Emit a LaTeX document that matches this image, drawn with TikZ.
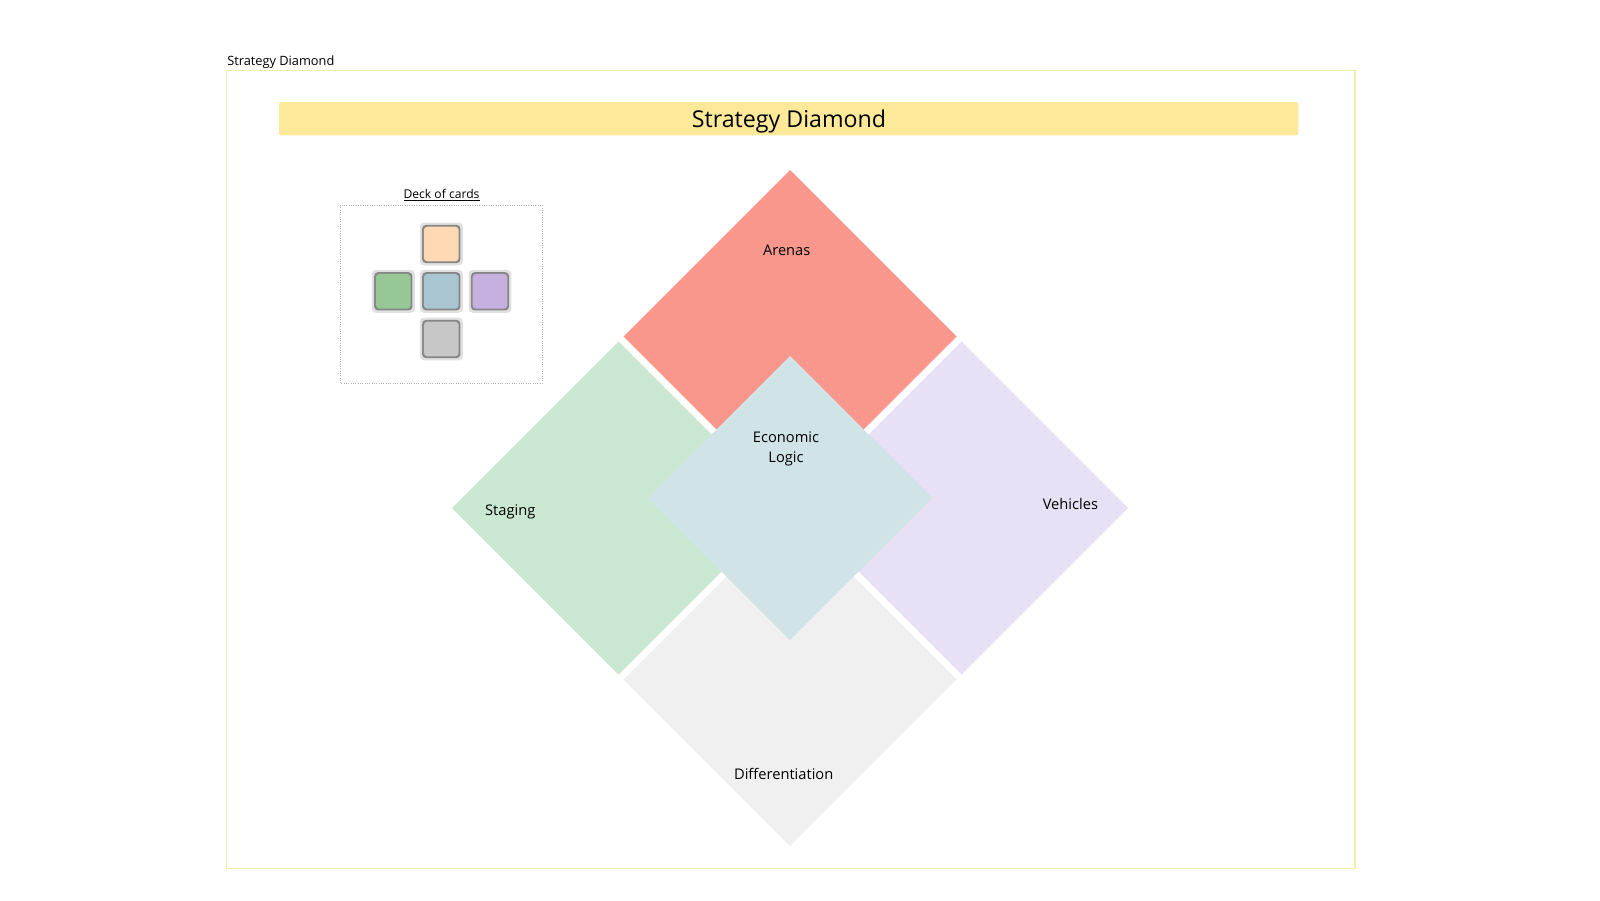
\documentclass[tikz,border=0pt]{standalone}
\usepackage{fontspec}
\setmainfont{Open Sans}
\usetikzlibrary{shadows}

\definecolor{framey}{HTML}{F6EEA8}
\definecolor{bannery}{HTML}{FDE99A}
\definecolor{arenasc}{HTML}{F9978C}
\definecolor{stagingc}{HTML}{CAE8D1}
\definecolor{vehiclesc}{HTML}{E8E0F5}
\definecolor{diffc}{HTML}{F0F0F0}
\definecolor{econc}{HTML}{D0E4E8}
\definecolor{cardpeach}{HTML}{FFD8B4}
\definecolor{cardgreen}{HTML}{97C794}
\definecolor{cardblue}{HTML}{A9C5D1}
\definecolor{cardpurple}{HTML}{C6B0DF}
\definecolor{cardgray}{HTML}{C7C7C7}

\begin{document}
\begin{tikzpicture}[x=0.75pt,y=0.75pt,yscale=-1,xscale=1,
    lbl/.style={inner sep=0.75pt, text=black, align=center, font=\fontsize{11}{15}\selectfont},
    card/.style={rounded corners=2.5pt, minimum size=26pt, inner sep=0pt,
      general shadow={fill=black, opacity=.12, shadow scale=1.24},
      general shadow={fill=black, opacity=.4, shadow scale=1.1}}]
        \useasboundingbox (0,0) rectangle (1600,900);

        % Text Node
        \node [anchor=west, inner sep=0.75pt, font=\fontsize{9.6}{12}\selectfont] (caption) at (226,62) {Strategy Diamond};
        %Shape: Rectangle
        \draw [color=framey, line width=1.1pt] (226.7,70.7) rectangle (1355,868.3) ;
        %Shape: Rectangle
        \fill [bannery, rounded corners=1.5pt] (279,102) rectangle (1298.3,135.3) ;
        % Text Node
        \node [inner sep=0.75pt, font=\fontsize{17.4}{20}\selectfont] (title) at (789,121.5) {Strategy Diamond};

        %Shape: Rectangle
        \draw [color=black!30, densely dotted, line width=0.75pt] (340,205) rectangle (542,383.5) ;
        % Text Node
        \node [inner sep=0.75pt, font=\fontsize{9.1}{11}\selectfont] (deck) at (441.5,195) {\underline{Deck of cards}};
        % Cards
        \node [card, fill=cardpeach] (cardTop) at (441.3,244) {};
        \node [card, fill=cardgreen] (cardLeft) at (393.3,291.3) {};
        \node [card, fill=cardblue] (cardMid) at (441.3,291.3) {};
        \node [card, fill=cardpurple] (cardRight) at (490,291.3) {};
        \node [card, fill=cardgray] (cardBot) at (441.3,339) {};

        %Shape: Diamond
        \fill [arenasc] (790,170) -- (956.5,336.5) -- (790,503) -- (623.5,336.5) -- cycle ;
        %Shape: Diamond
        \fill [stagingc] (618.5,341.5) -- (785,508) -- (618.5,674.5) -- (452,508) -- cycle ;
        %Shape: Diamond
        \fill [vehiclesc] (961.5,341.5) -- (1128,508) -- (961.5,674.5) -- (795,508) -- cycle ;
        %Shape: Diamond
        \fill [diffc] (790,513) -- (956.5,679.5) -- (790,846) -- (623.5,679.5) -- cycle ;
        %Shape: Diamond
        \fill [econc] (790,356) -- (932,498) -- (790,640) -- (648,498) -- cycle ;

        % Text Node
        \node [lbl] (arenas) at (786.7,250) {Arenas};
        % Text Node
        \node [lbl] (econ) at (786,449) {Economic\\Logic};
        % Text Node
        \node [lbl] (staging) at (510.2,512) {Staging};
        % Text Node
        \node [lbl] (vehicles) at (1070.4,504) {Vehicles};
        % Text Node
        \node [lbl] (diff) at (783.7,774) {Differentiation};
    \end{tikzpicture}
\end{document}
